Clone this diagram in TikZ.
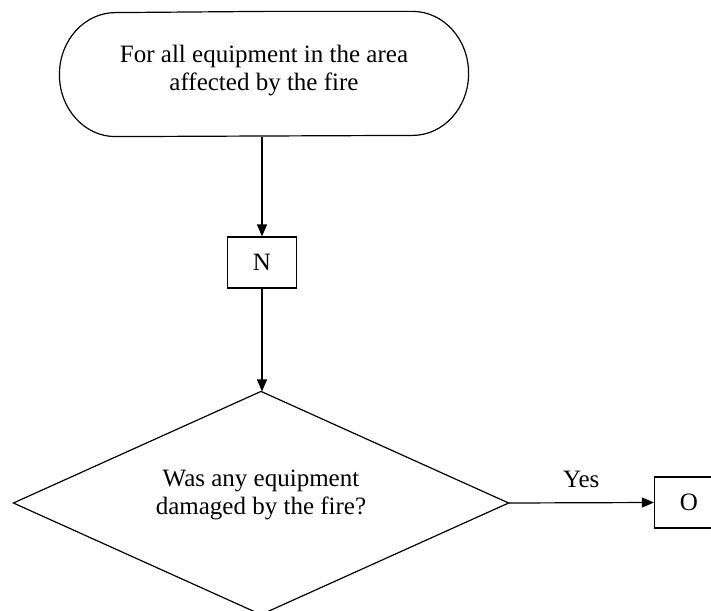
\documentclass[tikz,border=0pt]{standalone}
\usepackage{fontspec}
\setmainfont{Liberation Serif}
\usetikzlibrary{arrows.meta}
\begin{document}
\begin{tikzpicture}[x=1pt,y=-1pt,
  line width=1.2pt,
  every node/.style={font=\fontsize{25}{28}\selectfont, align=center, inner sep=0pt},
  box/.style={draw, minimum width=69pt, minimum height=51pt},
  arr/.style={-{Triangle[length=12pt,width=10pt]}}]
  \clip (0,0) rectangle (711,610);
  % start terminal: straight top/bottom with rounded ends
  \node[minimum width=408pt, minimum height=124pt] (t) at (264,74) {};
  \draw (t.north) -- ([xshift=-56pt]t.north east)
        arc[start angle=90, end angle=-90, x radius=56pt, y radius=62pt]
        -- ([xshift=56pt]t.south west)
        arc[start angle=270, end angle=90, x radius=56pt, y radius=62pt] -- cycle;
  \node (tt) at (264,71) {For all equipment in the area\\affected by the fire};
  % process box N
  \node[box] (n) at (262,262.5) {N};
  % decision diamond
  \node[minimum width=494pt, minimum height=222pt] (d) at (261,503) {};
  \draw (d.north) -- (d.east) -- (d.south) -- (d.west) -- cycle;
  \node (dt) at (261,495) {Was any equipment\\damaged by the fire?};
  % off-page box O
  \node[box] (o) at (689,502.5) {O};
  % connectors
  \draw[arr] (t.south -| n.north) -- (n.north);
  \draw[arr] (n.south) -- (n.south |- d.north);
  \draw[arr] (d.east) -- (o.west) node[midway, above=14pt] (yes) {Yes};
\end{tikzpicture}
\end{document}
